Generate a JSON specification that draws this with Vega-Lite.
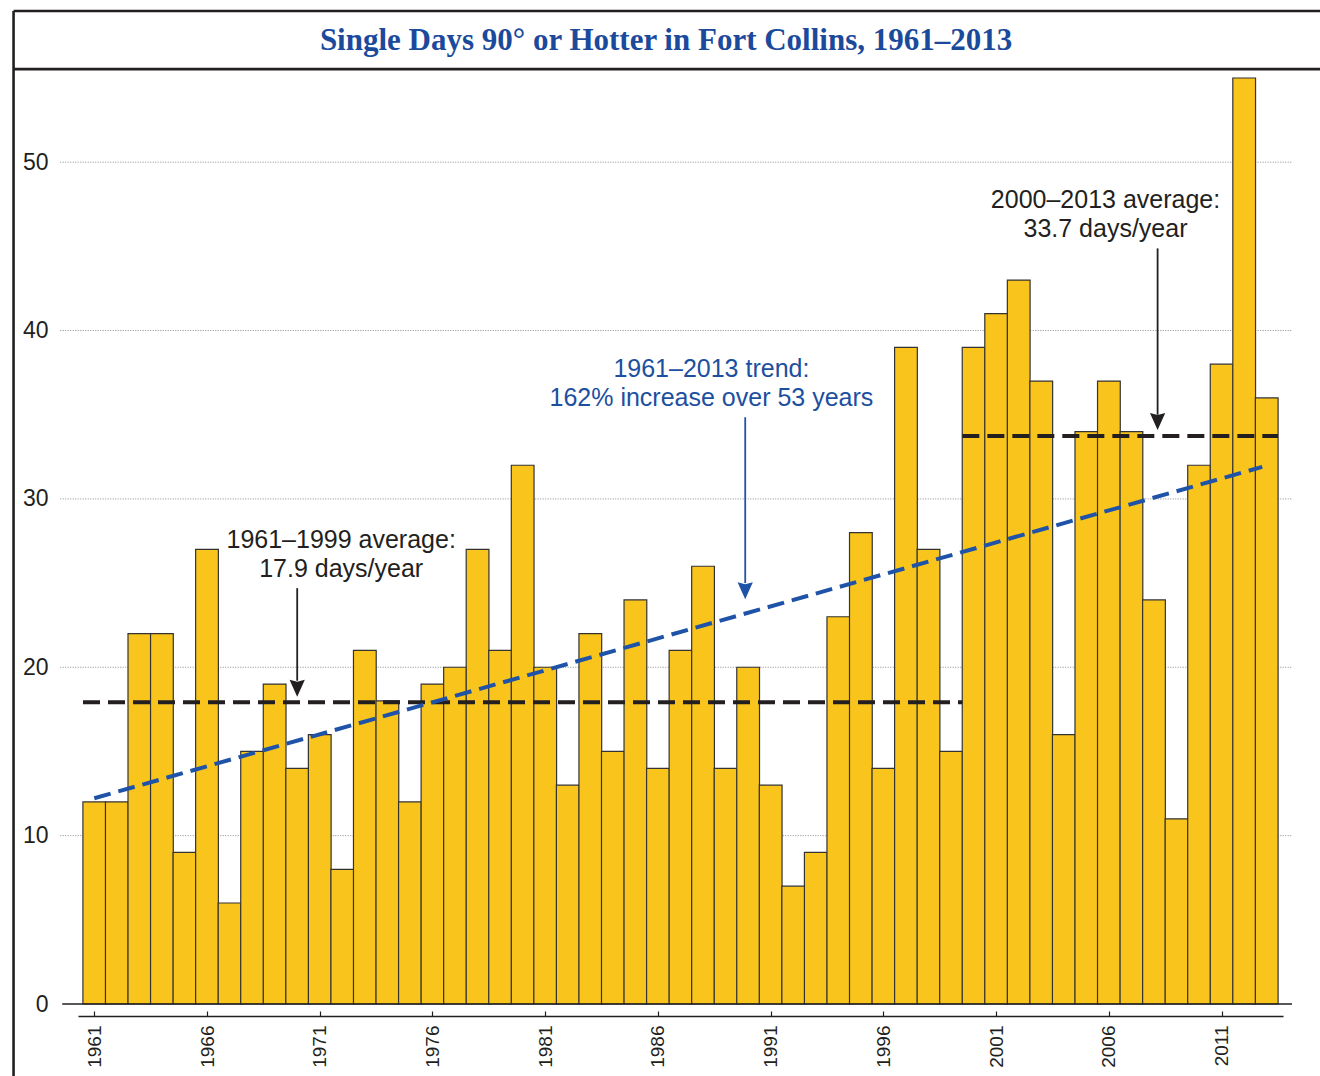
{
  "$schema": "https://vega.github.io/schema/vega-lite/v6.json",
  "width": 1205,
  "height": 926,
  "autosize": {"type": "none"},
  "padding": {"left": 78, "top": 78, "right": 37, "bottom": 72},
  "background": "white",
  "config": {"view": {"stroke": null}, "font": "Liberation Sans"},
  "data": {"values": [{}]},
  "datasets": {
    "days": [
      {"year": 1961, "days": 12}, {"year": 1962, "days": 12}, {"year": 1963, "days": 22}, {"year": 1964, "days": 22},
      {"year": 1965, "days": 9}, {"year": 1966, "days": 27}, {"year": 1967, "days": 6}, {"year": 1968, "days": 15},
      {"year": 1969, "days": 19}, {"year": 1970, "days": 14}, {"year": 1971, "days": 16}, {"year": 1972, "days": 8},
      {"year": 1973, "days": 21}, {"year": 1974, "days": 18}, {"year": 1975, "days": 12}, {"year": 1976, "days": 19},
      {"year": 1977, "days": 20}, {"year": 1978, "days": 27}, {"year": 1979, "days": 21}, {"year": 1980, "days": 32},
      {"year": 1981, "days": 20}, {"year": 1982, "days": 13}, {"year": 1983, "days": 22}, {"year": 1984, "days": 15},
      {"year": 1985, "days": 24}, {"year": 1986, "days": 14}, {"year": 1987, "days": 21}, {"year": 1988, "days": 26},
      {"year": 1989, "days": 14}, {"year": 1990, "days": 20}, {"year": 1991, "days": 13}, {"year": 1992, "days": 7},
      {"year": 1993, "days": 9}, {"year": 1994, "days": 23}, {"year": 1995, "days": 28}, {"year": 1996, "days": 14},
      {"year": 1997, "days": 39}, {"year": 1998, "days": 27}, {"year": 1999, "days": 15}, {"year": 2000, "days": 39},
      {"year": 2001, "days": 41}, {"year": 2002, "days": 43}, {"year": 2003, "days": 37}, {"year": 2004, "days": 16},
      {"year": 2005, "days": 34}, {"year": 2006, "days": 37}, {"year": 2007, "days": 34}, {"year": 2008, "days": 24},
      {"year": 2009, "days": 11}, {"year": 2010, "days": 32}, {"year": 2011, "days": 38}, {"year": 2012, "days": 55},
      {"year": 2013, "days": 36}
    ],
    "grid": [{"value": 10}, {"value": 20}, {"value": 30}, {"value": 40}, {"value": 50}]
  },
  "layer": [
    {
      "data": {"name": "grid"},
      "mark": {"type": "rule", "color": "#8c8c8c", "strokeDash": [1, 1.5], "strokeWidth": 1, "clip": false},
      "encoding": {
        "x": {
          "datum": 1959.49, "type": "quantitative",
          "scale": {"domain": [1960.5, 2013.5], "nice": false, "zero": false},
          "axis": {
            "values": [1961, 1966, 1971, 1976, 1981, 1986, 1991, 1996, 2001, 2006, 2011],
            "format": "d", "labelAngle": -90, "labelFontSize": 19, "labelColor": "#231f20",
            "domainColor": "#231f20", "domainWidth": 1.5, "tickColor": "#231f20", "tickSize": -5,
            "tickWidth": 1.2, "labelPadding": 14, "offset": 12, "grid": false, "title": null
          }
        },
        "x2": {"datum": 2014.12},
        "y": {
          "field": "value", "type": "quantitative",
          "scale": {"domain": [0, 55], "nice": false},
          "axis": {
            "values": [0, 10, 20, 30, 40, 50], "domain": false, "ticks": false, "grid": false,
            "labelFontSize": 23, "labelPadding": 30, "labelColor": "#231f20", "title": null
          }
        }
      }
    },
    {
      "data": {"name": "days"},
      "mark": {"type": "bar", "width": 22.74, "fill": "#F9C51C", "stroke": "#333333", "strokeWidth": 1.2},
      "encoding": {
        "x": {
          "field": "year", "type": "quantitative",
          "axis": {
            "values": [1961, 1966, 1971, 1976, 1981, 1986, 1991, 1996, 2001, 2006, 2011],
            "format": "d", "labelAngle": -90, "labelFontSize": 19, "labelColor": "#231f20",
            "domainColor": "#231f20", "domainWidth": 1.5, "tickColor": "#231f20", "tickSize": -5,
            "tickWidth": 1.2, "labelPadding": 14, "offset": 12, "grid": false, "title": null
          }
        },
        "y": {
          "field": "days", "type": "quantitative",
          "axis": {
            "values": [0, 10, 20, 30, 40, 50], "domain": false, "ticks": false, "grid": false,
            "labelFontSize": 23, "labelPadding": 30, "labelColor": "#231f20", "title": null
          }
        }
      }
    },
    {
      "mark": {"type": "rule", "color": "#231f20", "strokeWidth": 1.3, "clip": false},
      "encoding": {"x": {"datum": 1959.58}, "x2": {"datum": 2014.12}, "y": {"datum": 0}}
    },
    {
      "mark": {"type": "rule", "color": "#231f20", "strokeWidth": 4, "strokeDash": [17, 8]},
      "encoding": {"x": {"datum": 1960.5}, "x2": {"datum": 1999.5}, "y": {"datum": 17.92}}
    },
    {
      "mark": {"type": "rule", "color": "#231f20", "strokeWidth": 4, "strokeDash": [17, 8]},
      "encoding": {"x": {"datum": 1999.5}, "x2": {"datum": 2013.5}, "y": {"datum": 33.74}}
    },
    {
      "mark": {"type": "rule", "color": "#1f53a8", "strokeWidth": 4, "strokeDash": [17, 8]},
      "encoding": {"x": {"datum": 1961.0}, "y": {"datum": 12.22}, "x2": {"datum": 2012.8}, "y2": {"datum": 31.9}}
    },
    {
      "mark": {"type": "rule", "color": "#231f20", "strokeWidth": 1.8},
      "encoding": {"x": {"datum": 1970.0}, "y": {"datum": 24.7}, "y2": {"datum": 19.2}}
    },
    {
      "mark": {"type": "point", "shape": "M-0.9,-1L0,-0.75L0.9,-1L0,1Z", "size": 289, "filled": true, "color": "#231f20", "opacity": 1},
      "encoding": {"x": {"datum": 1970.0}, "y": {"datum": 18.76}}
    },
    {
      "mark": {"type": "rule", "color": "#1f53a8", "strokeWidth": 1.8},
      "encoding": {"x": {"datum": 1989.87}, "y": {"datum": 34.85}, "y2": {"datum": 25.0}}
    },
    {
      "mark": {"type": "point", "shape": "M-0.9,-1L0,-0.75L0.9,-1L0,1Z", "size": 289, "filled": true, "color": "#1f53a8", "opacity": 1},
      "encoding": {"x": {"datum": 1989.87}, "y": {"datum": 24.55}}
    },
    {
      "mark": {"type": "rule", "color": "#231f20", "strokeWidth": 1.8},
      "encoding": {"x": {"datum": 2008.16}, "y": {"datum": 44.88}, "y2": {"datum": 35.0}}
    },
    {
      "mark": {"type": "point", "shape": "M-0.9,-1L0,-0.75L0.9,-1L0,1Z", "size": 289, "filled": true, "color": "#231f20", "opacity": 1},
      "encoding": {"x": {"datum": 2008.16}, "y": {"datum": 34.6}}
    },
    {
      "mark": {"type": "text", "align": "center", "baseline": "alphabetic", "fontSize": 25, "lineHeight": 29, "lineBreak": "\n", "color": "#231f20"},
      "encoding": {"x": {"datum": 1971.95}, "y": {"datum": 27.1}, "text": {"value": "1961–1999 average:\n17.9 days/year"}}
    },
    {
      "mark": {"type": "text", "align": "center", "baseline": "alphabetic", "fontSize": 25, "lineHeight": 29, "lineBreak": "\n", "color": "#1d4f9f"},
      "encoding": {"x": {"datum": 1988.37}, "y": {"datum": 37.22}, "text": {"value": "1961–2013 trend:\n162% increase over 53 years"}}
    },
    {
      "mark": {"type": "text", "align": "center", "baseline": "alphabetic", "fontSize": 25, "lineHeight": 29, "lineBreak": "\n", "color": "#231f20"},
      "encoding": {"x": {"datum": 2005.85}, "y": {"datum": 47.26}, "text": {"value": "2000–2013 average:\n33.7 days/year"}}
    },
    {
      "mark": {"type": "rule", "color": "#231f20", "strokeWidth": 2.6, "clip": false},
      "encoding": {"x": {"datum": 1957.42}, "y": {"datum": 58.98}, "y2": {"datum": -6}}
    },
    {
      "mark": {"type": "rule", "color": "#231f20", "strokeWidth": 2.6, "clip": false},
      "encoding": {"x": {"datum": 1957.42}, "x2": {"datum": 2017}, "y": {"datum": 58.98}}
    },
    {
      "mark": {"type": "rule", "color": "#231f20", "strokeWidth": 2.6, "clip": false},
      "encoding": {"x": {"datum": 1957.42}, "x2": {"datum": 2017}, "y": {"datum": 55.53}}
    },
    {
      "mark": {"type": "text", "align": "center", "baseline": "alphabetic", "font": "Liberation Serif", "fontWeight": "bold", "fontSize": 31, "color": "#1b4a9c", "clip": false},
      "encoding": {"x": {"datum": 1986.36}, "y": {"datum": 56.66}, "text": {"value": "Single Days 90° or Hotter in Fort Collins, 1961–2013"}}
    }
  ]
}
